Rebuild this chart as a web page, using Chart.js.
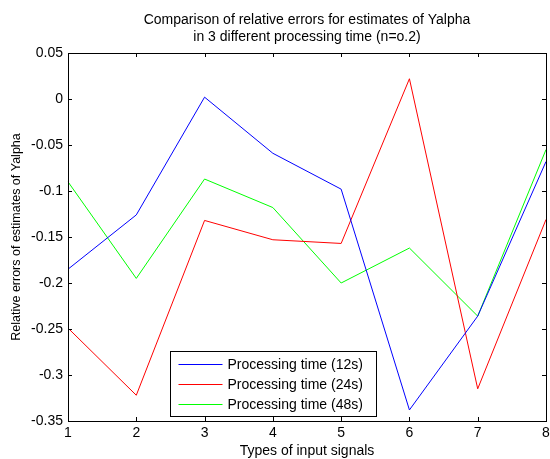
<!DOCTYPE html>
<html>
<head>
<meta charset="utf-8">
<script src="https://cdn.jsdelivr.net/npm/chart.js@4"></script>
<style>
  html, body { margin: 0; padding: 0; background: #fff; }
  #wrap { width: 550px; height: 459px; }
</style>
</head>
<body>
<div id="wrap"><canvas id="chart" width="550" height="459"></canvas></div>
<script>
  // ── Data ──
  const signals = ['1', '2', '3', '4', '5', '6', '7', '8'];
  const err12s = [-0.185, -0.126, 0.002, -0.059, -0.098, -0.338, -0.236, -0.068];
  const err24s = [-0.249, -0.322, -0.132, -0.153, -0.157, 0.022, -0.315, -0.131];
  const err48s = [-0.090, -0.195, -0.087, -0.118, -0.200, -0.162, -0.236, -0.055];
  const seriesNames = ['Processing time (12s)', 'Processing time (24s)', 'Processing time (48s)'];
  const yMin = -0.35, yMax = 0.05, yStep = 0.05;

  const FONT = "'Liberation Sans', Arial, sans-serif";
  Chart.defaults.font.family = FONT;
  Chart.defaults.font.size = 14;
  Chart.defaults.color = '#000';

  // ── MATLAB style frame, inward ticks, boxed legend ──
  const matlabFrame = {
    id: 'matlabFrame',
    afterDraw(chart) {
      const { ctx, chartArea: a, scales } = chart;
      const len = 4;
      ctx.save();
      ctx.strokeStyle = '#000';
      ctx.lineWidth = 1;
      ctx.beginPath();
      scales.x.ticks.forEach((t, i) => {
        const px = Math.round(scales.x.getPixelForTick(i)) + 0.5;
        ctx.moveTo(px, a.bottom); ctx.lineTo(px, a.bottom - len);
        ctx.moveTo(px, a.top); ctx.lineTo(px, a.top + len);
      });
      scales.y.ticks.forEach(t => {
        const py = Math.round(scales.y.getPixelForValue(t.value)) + 0.5;
        ctx.moveTo(a.left, py); ctx.lineTo(a.left + len, py);
        ctx.moveTo(a.right, py); ctx.lineTo(a.right - len, py);
      });
      ctx.stroke();
      ctx.strokeRect(Math.round(a.left) + 0.5, Math.round(a.top) + 0.5,
        Math.round(a.right - a.left), Math.round(a.bottom - a.top));

      // legend box in lower-left part of the axes
      const bx = 170.5, by = 351.5, bw = 206, bh = 65;
      ctx.fillStyle = '#fff';
      ctx.fillRect(bx, by, bw, bh);
      ctx.strokeRect(bx, by, bw, bh);
      ctx.font = '14px ' + FONT;
      ctx.textBaseline = 'middle';
      chart.data.datasets.forEach((ds, i) => {
        const ry = Math.round(by + 12 + i * 20) + 0.5;
        ctx.strokeStyle = ds.borderColor;
        ctx.beginPath();
        ctx.moveTo(bx + 8, ry); ctx.lineTo(bx + 52, ry);
        ctx.stroke();
        ctx.fillStyle = '#000';
        ctx.fillText(ds.label, bx + 57, ry + 1);
      });
      ctx.restore();
    }
  };

  const lineSet = (label, data, color) => ({
    label, data,
    borderColor: color,
    backgroundColor: color,
    borderWidth: 1,
    pointRadius: 0,
    tension: 0,
    fill: false
  });

  new Chart(document.getElementById('chart'), {
    type: 'line',
    data: {
      labels: signals,
      datasets: [
        lineSet(seriesNames[0], err12s, '#0000ff'),
        lineSet(seriesNames[1], err24s, '#ff0000'),
        lineSet(seriesNames[2], err48s, '#00ff00')
      ]
    },
    options: {
      responsive: false,
      animation: false,
      layout: { padding: 0 },
      plugins: {
        legend: { display: false },
        tooltip: { enabled: false },
        title: {
          display: true,
          fullSize: false,
          text: ['Comparison of relative errors for estimates of Yalpha',
                 'in 3 different processing time (n=o.2)'],
          font: { size: 14, weight: 'normal', lineHeight: 1.2 },
          color: '#000',
          padding: { top: 11.6, bottom: 7.8 }
        }
      },
      scales: {
        x: {
          type: 'category',
          offset: false,
          grid: { display: false, drawTicks: false },
          border: { display: false },
          ticks: { padding: 4, maxRotation: 0, autoSkip: false },
          title: { display: true, text: 'Types of input signals', padding: { top: 0, bottom: -1 } },
          afterFit: s => { s.height = 38; s.paddingLeft = 0; s.paddingRight = 4; }
        },
        y: {
          min: yMin, max: yMax,
          grid: { display: false, drawTicks: false },
          border: { display: false },
          ticks: { stepSize: yStep, padding: 5, callback: v => String(+v.toFixed(2)) },
          title: {
            display: true, text: 'Relative errors of estimates of Yalpha',
            font: { size: 12.5 }, padding: { top: 9.5, bottom: 0 }
          },
          afterFit: s => { s.width = 68; }
        }
      }
    },
    plugins: [matlabFrame]
  });
</script>
</body>
</html>
